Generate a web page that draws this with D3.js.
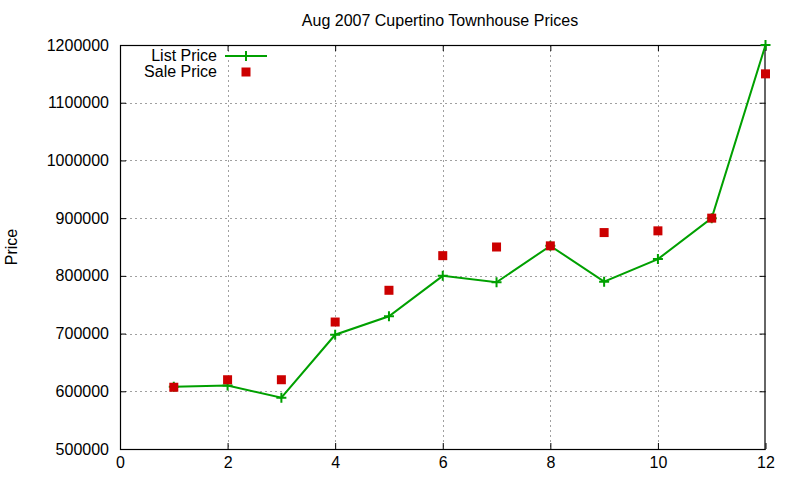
<!DOCTYPE html>
<html><head><meta charset="utf-8">
<script src="https://cdn.jsdelivr.net/npm/d3@7"></script>
<style>body{margin:0;background:#fff}svg{display:block}text{font-family:"Liberation Sans",Arial,sans-serif;font-size:16px;fill:#000}</style>
</head><body><svg id="c" width="800" height="480"></svg>
<script>
const months = [1,2,3,4,5,6,7,8,9,10,11,12];
const listPrice = [608000,610000,589000,698000,730000,800000,789000,852000,790000,829000,900000,1200000];
const salePrice = [607000,620000,620000,720000,775000,835000,850000,852000,875000,878000,900000,1150000];
const xTicks = [0,2,4,6,8,10,12];
const yTicks = [500000,600000,700000,800000,900000,1000000,1100000,1200000];
const title = "Aug 2007 Cupertino Townhouse Prices";
const yLabel = "Price";
const seriesNames = ["List Price","Sale Price"];

const svg = d3.select("#c");
const L=120,R=765.5,T=45,B=449;
const x = d3.scaleLinear().domain([0,12]).range([L,R]);
const y = d3.scaleLinear().domain([500000,1200000]).range([B,T]);
const green="#00a000", red="#cc0000";

// grid
const g = svg.append("g");
g.selectAll(".gx").data(xTicks.filter(d=>d>0&&d<12)).enter().append("line")
 .attr("x1",d=>Math.round(x(d))+0.5).attr("x2",d=>Math.round(x(d))+0.5).attr("y1",T).attr("y2",B)
 .attr("stroke","#a0a0a0").attr("stroke-width",1).attr("stroke-dasharray","2,3");
g.selectAll(".gy").data(yTicks.filter(d=>d>500000&&d<1200000)).enter().append("line")
 .attr("y1",d=>Math.round(y(d))+0.5).attr("y2",d=>Math.round(y(d))+0.5).attr("x1",L).attr("x2",R)
 .attr("stroke","#a0a0a0").attr("stroke-width",1).attr("stroke-dasharray","2,3");

// axes (ticks inward, mirrored)
function styleAxis(sel){sel.select(".domain").remove();sel.selectAll("line").attr("stroke","#000");sel.selectAll("text").style("font-family","Liberation Sans, Arial, sans-serif").style("font-size","16px").attr("fill","#000");}
svg.append("g").attr("transform",`translate(0,${B})`).call(d3.axisBottom(x).tickValues(xTicks).tickSizeInner(-6).tickSizeOuter(0).tickPadding(7.5).tickFormat(d3.format("d"))).call(styleAxis);
svg.append("g").attr("transform",`translate(0,${T})`).call(d3.axisTop(x).tickValues(xTicks).tickSizeInner(-6).tickSizeOuter(0).tickFormat("")).call(styleAxis);
svg.append("g").attr("transform",`translate(${L},0)`).call(d3.axisLeft(y).tickValues(yTicks).tickSizeInner(-6).tickSizeOuter(0).tickPadding(11).tickFormat(d3.format("d"))).call(styleAxis);
svg.append("g").attr("transform",`translate(${R},0)`).call(d3.axisRight(y).tickValues(yTicks).tickSizeInner(-6).tickSizeOuter(0).tickFormat("")).call(styleAxis);
svg.append("rect").attr("x",L+0.5).attr("y",T+0.5).attr("width",R-L-1).attr("height",B-T).attr("fill","none").attr("stroke","#000").attr("stroke-width",1.2);

// list price line
const line = d3.line().x((d,i)=>x(months[i])).y(d=>y(d));
svg.append("path").datum(listPrice).attr("d",line).attr("fill","none").attr("stroke",green).attr("stroke-width",2);
function cross(sel,cx,cy){sel.append("path").attr("d",`M${cx-5},${cy}H${cx+5}M${cx},${cy-5}V${cy+5}`).attr("stroke",green).attr("stroke-width",2);}
const pts = svg.append("g");
listPrice.forEach((v,i)=>cross(pts,x(months[i]),y(v)));
// sale price squares
svg.append("g").selectAll("rect").data(salePrice).enter().append("rect")
 .attr("x",(d,i)=>x(months[i])-4.5).attr("y",d=>y(d)-4.5).attr("width",9).attr("height",9).attr("fill",red);

// title & labels
svg.append("text").attr("x",440).attr("y",26).attr("text-anchor","middle").text(title);
svg.append("text").attr("transform","translate(17,247) rotate(-90)").attr("text-anchor","middle").text(yLabel);

// legend
const lg = svg.append("g");
lg.append("text").attr("x",217).attr("y",61).attr("text-anchor","end").text(seriesNames[0]);
lg.append("line").attr("x1",225).attr("x2",267).attr("y1",56).attr("y2",56).attr("stroke",green).attr("stroke-width",2);
cross(lg,246,56);
lg.append("text").attr("x",217).attr("y",76.5).attr("text-anchor","end").text(seriesNames[1]);
lg.append("rect").attr("x",241.5).attr("y",67.5).attr("width",9).attr("height",9).attr("fill",red);
</script></body></html>
